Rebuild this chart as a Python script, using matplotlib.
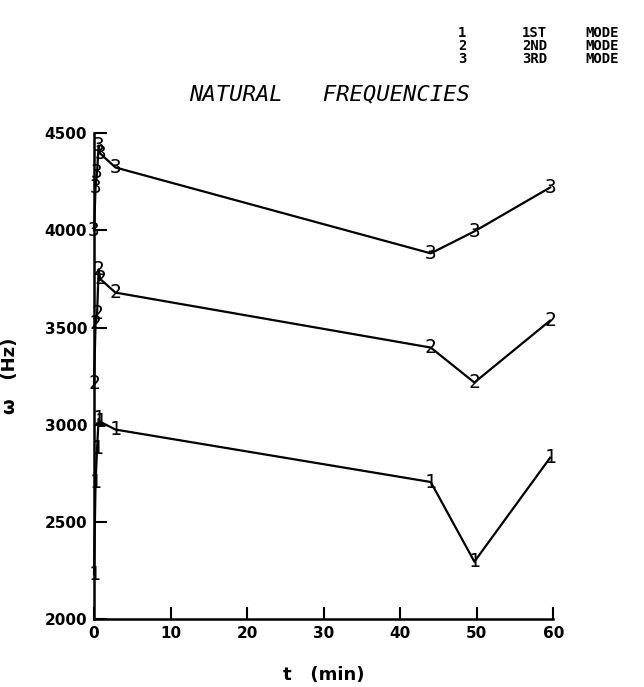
import matplotlib
matplotlib.use("Agg")
import matplotlib.pyplot as plt

# time (min) and natural frequencies (Hz)
t = [0.0, 0.2, 0.4, 0.6, 0.8, 2.8, 44.0, 49.7, 59.6]
mode1 = [2230, 2700, 2880, 3030, 3015, 2975, 2705, 2295, 2830]
mode2 = [3210, 3520, 3570, 3800, 3750, 3680, 3397, 3217, 3536]
mode3 = [4000, 4220, 4300, 4437, 4396, 4324, 3882, 3995, 4221]

modes = [("1", "1ST", mode1), ("2", "2ND", mode2), ("3", "3RD", mode3)]
x_ticks = [0, 10, 20, 30, 40, 50, 60]
y_ticks = [2000, 2500, 3000, 3500, 4000, 4500]

fig = plt.figure(figsize=(6.44, 6.87), dpi=100)
ax = fig.add_axes([0.146, 0.099, 0.713, 0.707])

for sym, name, vals in modes:
    ax.plot(t, vals, color="black", linewidth=1.6, clip_on=False)
    for x, y in zip(t, vals):
        ax.text(x, y, sym, ha="center", va="center", fontsize=14,
                family="DejaVu Sans Mono", clip_on=False)

ax.set_xlim(0, 60)
ax.set_ylim(2000, 4500)
ax.set_xticks(x_ticks)
ax.set_yticks(y_ticks)
ax.tick_params(direction="in", length=9, width=1.5, labelsize=11, pad=5)
for lbl in ax.get_xticklabels() + ax.get_yticklabels():
    lbl.set_fontweight("bold")
ax.spines["top"].set_visible(False)
ax.spines["right"].set_visible(False)
ax.spines["left"].set_linewidth(1.8)
ax.spines["bottom"].set_linewidth(1.8)

ax.set_xlabel("t   (min)", fontsize=13, fontweight="bold", labelpad=18)
ax.set_ylabel("\u03c9   (Hz)", fontsize=13, fontweight="bold", labelpad=18)

fig.text(0.512, 0.862, "NATURAL   FREQUENCIES", ha="center", va="center",
         fontsize=16, style="italic", family="DejaVu Sans Mono")

# mode key in the top right corner
for i, (sym, name, vals) in enumerate(modes):
    yk = 1 - (33 + 13 * i) / 687
    fig.text(462 / 644, yk, sym, ha="center", va="center", fontsize=10,
             family="DejaVu Sans Mono", fontweight="bold")
    fig.text(522 / 644, yk, name, ha="left", va="center", fontsize=10,
             family="DejaVu Sans Mono", fontweight="bold")
    fig.text(585 / 644, yk, "MODE", ha="left", va="center", fontsize=10,
             family="DejaVu Sans Mono", fontweight="bold")

fig.savefig("out.png", dpi=100)
plt.close(fig)
